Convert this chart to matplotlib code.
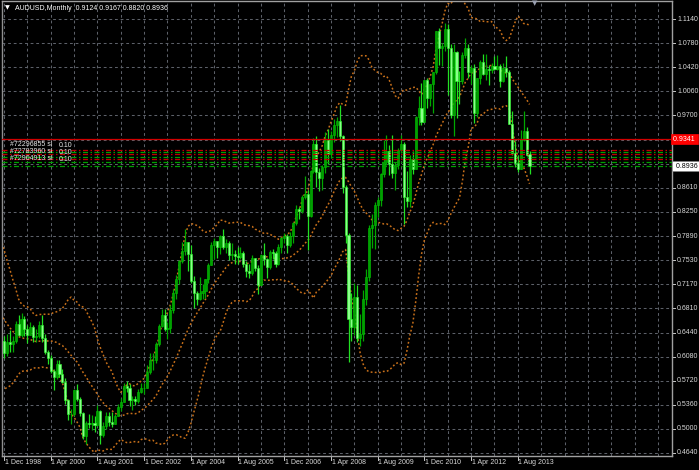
import numpy as np
import pandas as pd
import matplotlib.pyplot as plt
from matplotlib.transforms import blended_transform_factory

# AUDUSD monthly, Dec 1998 .. Dec 2013 (open, high, low, close)
opens = [0.6320,
 0.6135,0.6300,0.6270,0.6320,0.6570,0.6400,0.6640,0.6490,0.6410,0.6530,0.6380,0.6390,
 0.6560,0.6360,0.6150,0.6070,0.5870,0.5780,0.5970,0.5820,0.5710,0.5430,0.5230,0.5230,
 0.5590,0.5450,0.5240,0.4890,0.5090,0.5080,0.5090,0.5060,0.5270,0.4910,0.5040,0.5200,
 0.5110,0.5080,0.5200,0.5330,0.5410,0.5640,0.5620,0.5430,0.5450,0.5420,0.5560,0.5610,
 0.5620,0.5860,0.6030,0.6030,0.6270,0.6540,0.6710,0.6500,0.6510,0.6780,0.7040,0.7240,
 0.7520,0.7660,0.7800,0.7620,0.7220,0.7030,0.6950,0.7040,0.7070,0.7240,0.7460,0.7760,
 0.7810,0.7720,0.7890,0.7720,0.7790,0.7610,0.7620,0.7590,0.7570,0.7630,0.7470,0.7370,
 0.7330,0.7560,0.7410,0.7155,0.7605,0.7545,0.7420,0.7650,0.7630,0.7465,0.7730,0.7860,
 0.7885,0.7760,0.7895,0.8085,0.8300,0.8260,0.8480,0.8520,0.8190,0.8860,0.9270,0.8850,
 0.8760,0.8930,0.9330,0.9115,0.9410,0.9550,0.9620,0.9390,0.8620,0.7900,0.6640,0.6530,
 0.6980,0.6355,0.6420,0.6940,0.7270,0.8010,0.8060,0.8360,0.8430,0.8820,0.9000,0.9165,
 0.8970,0.8840,0.8960,0.9175,0.9265,0.8480,0.8420,0.9040,0.8890,0.9680,0.9800,0.9600,
 1.0225,0.9960,1.0160,1.0340,1.0960,1.0700,1.0735,1.0990,1.0700,0.9700,1.0640,1.0215,
 1.0210,1.0600,1.0710,1.0340,1.0400,0.9730,1.0250,1.0500,1.0320,1.0385,1.0380,1.0430,
 1.0385,1.0430,1.0205,1.0410,1.0350,0.9575,0.9140,0.8990,0.8895,0.9330,0.9465,0.9124]
highs = [0.6390,
 0.6420,0.6480,0.6390,0.6620,0.6710,0.6730,0.6690,0.6550,0.6600,0.6550,0.6490,0.6610,
 0.6710,0.6420,0.6190,0.6110,0.5900,0.6030,0.6040,0.5900,0.5770,0.5450,0.5300,0.5600,
 0.5680,0.5480,0.5260,0.5120,0.5230,0.5210,0.5190,0.5360,0.5280,0.5100,0.5250,0.5250,
 0.5260,0.5230,0.5370,0.5460,0.5690,0.5720,0.5680,0.5500,0.5500,0.5600,0.5690,0.5690,
 0.5960,0.6140,0.6140,0.6300,0.6570,0.6790,0.6800,0.6600,0.6850,0.7100,0.7300,0.7530,
 0.7800,0.8000,0.7800,0.7750,0.7290,0.7070,0.7270,0.7170,0.7250,0.7490,0.7800,0.7860,
 0.7820,0.7900,0.7990,0.7840,0.7810,0.7780,0.7680,0.7730,0.7720,0.7660,0.7510,0.7470,
 0.7600,0.7560,0.7450,0.7620,0.7790,0.7560,0.7680,0.7690,0.7670,0.7770,0.7880,0.7930,
 0.7920,0.7950,0.8100,0.8350,0.8330,0.8500,0.8790,0.8580,0.8880,0.9360,0.9390,0.8910,
 0.8960,0.9450,0.9500,0.9460,0.9650,0.9670,0.9850,0.9410,0.8660,0.7940,0.7040,0.7180,
 0.7150,0.6720,0.7080,0.7390,0.8050,0.8220,0.8400,0.8480,0.8830,0.9330,0.9400,0.9260,
 0.9400,0.9000,0.9210,0.9400,0.9300,0.8860,0.9110,0.9160,0.9690,0.9990,1.0180,1.0230,
 1.0250,1.0170,1.0350,1.0960,1.1010,1.0780,1.1080,1.1070,1.0770,1.0760,1.0660,1.0360,
 1.0650,1.0860,1.0770,1.0450,1.0470,1.0250,1.0520,1.0620,1.0620,1.0450,1.0480,1.0580,
 1.0600,1.0470,1.0480,1.0580,1.0380,0.9760,0.9320,0.9110,0.9480,0.9760,0.9530,0.9167]
lows = [0.6070,
 0.6090,0.6160,0.6160,0.6290,0.6390,0.6380,0.6390,0.6290,0.6400,0.6300,0.6300,0.6360,
 0.6300,0.6120,0.5980,0.5840,0.5580,0.5750,0.5780,0.5690,0.5380,0.5140,0.5070,0.5190,
 0.5420,0.5190,0.4850,0.4775,0.5010,0.4980,0.4960,0.5050,0.4775,0.4880,0.5000,0.5050,
 0.5030,0.5070,0.5190,0.5270,0.5400,0.5550,0.5350,0.5280,0.5360,0.5390,0.5540,0.5520,
 0.5610,0.5820,0.5880,0.5990,0.6240,0.6520,0.6460,0.6340,0.6430,0.6740,0.6950,0.7170,
 0.7480,0.7600,0.7370,0.7180,0.6810,0.6850,0.6930,0.6950,0.6960,0.7180,0.7450,0.7540,
 0.7560,0.7620,0.7690,0.7640,0.7530,0.7530,0.7470,0.7470,0.7550,0.7430,0.7280,0.7260,
 0.7310,0.7360,0.7020,0.7150,0.7460,0.7260,0.7400,0.7540,0.7430,0.7460,0.7630,0.7790,
 0.7640,0.7720,0.7780,0.8060,0.8150,0.8240,0.8450,0.7680,0.8180,0.8840,0.8630,0.8560,
 0.8580,0.8840,0.8970,0.9060,0.9300,0.9370,0.9320,0.8540,0.7780,0.6010,0.6320,0.6400,
 0.6300,0.6250,0.6320,0.6860,0.7210,0.7710,0.7700,0.8180,0.8340,0.8770,0.8960,0.8800,
 0.8760,0.8580,0.8900,0.9130,0.8070,0.8330,0.8320,0.8820,0.8890,0.9560,0.9550,0.9610,
 0.9810,0.9840,0.9730,1.0310,1.0450,1.0430,1.0660,1.0000,0.9660,0.9390,0.9660,0.9860,
 1.0160,1.0560,1.0260,1.0160,0.9580,0.9680,1.0160,1.0300,1.0220,1.0150,1.0330,1.0370,
 1.0380,1.0120,1.0190,1.0270,0.9570,0.9110,0.8920,0.8850,0.8890,0.9320,0.9090,0.8820]
closes = [0.6135,
 0.6300,0.6270,0.6320,0.6570,0.6400,0.6640,0.6490,0.6410,0.6530,0.6380,0.6390,0.6560,
 0.6360,0.6150,0.6070,0.5870,0.5780,0.5970,0.5820,0.5710,0.5430,0.5230,0.5230,0.5590,
 0.5450,0.5240,0.4890,0.5090,0.5080,0.5090,0.5060,0.5270,0.4910,0.5040,0.5200,0.5110,
 0.5080,0.5200,0.5330,0.5410,0.5640,0.5620,0.5430,0.5450,0.5420,0.5560,0.5610,0.5620,
 0.5860,0.6030,0.6030,0.6270,0.6540,0.6710,0.6500,0.6510,0.6780,0.7040,0.7240,0.7520,
 0.7660,0.7800,0.7620,0.7220,0.7030,0.6950,0.7040,0.7070,0.7240,0.7460,0.7760,0.7810,
 0.7720,0.7890,0.7720,0.7790,0.7610,0.7620,0.7590,0.7570,0.7630,0.7470,0.7370,0.7330,
 0.7560,0.7410,0.7155,0.7605,0.7545,0.7420,0.7650,0.7630,0.7465,0.7730,0.7860,0.7885,
 0.7760,0.7895,0.8085,0.8300,0.8260,0.8480,0.8520,0.8190,0.8860,0.9270,0.8850,0.8760,
 0.8930,0.9330,0.9115,0.9410,0.9550,0.9620,0.9390,0.8620,0.7900,0.6640,0.6530,0.6980,
 0.6355,0.6420,0.6940,0.7270,0.8010,0.8060,0.8360,0.8430,0.8820,0.9000,0.9165,0.8970,
 0.8840,0.8960,0.9175,0.9265,0.8480,0.8420,0.9040,0.8890,0.9680,0.9800,0.9600,1.0225,
 0.9960,1.0160,1.0340,1.0960,1.0700,1.0735,1.0990,1.0700,0.9700,1.0640,1.0215,1.0210,
 1.0600,1.0710,1.0340,1.0400,0.9730,1.0250,1.0500,1.0320,1.0385,1.0380,1.0430,1.0385,
 1.0430,1.0205,1.0410,1.0350,0.9575,0.9140,0.8990,0.8895,0.9330,0.9465,0.9110,0.8936]
# closes Apr 1997 .. Nov 1998, only used to warm up the bands
closes_before = [0.7740,0.7600,0.7460,0.7400,0.7310,0.7240,0.6990,0.6700,0.6510,0.6720,
                 0.6780,0.6615,0.6480,0.6190,0.6200,0.6110,0.5860,0.5930,0.6270,0.6320]

date_labels = ["1 Dec 1998", "1 Apr 2000", "1 Aug 2001", "1 Dec 2002", "1 Apr 2004", "1 Aug 2005",
               "1 Dec 2006", "1 Apr 2008", "1 Aug 2009", "1 Dec 2010", "1 Apr 2012", "1 Aug 2013"]
price_grid = [0.4640, 0.5000, 0.5360, 0.5720, 0.6080, 0.6440, 0.6810, 0.7170, 0.7530, 0.7890,
              0.8250, 0.8610, 0.8970, 0.9330, 0.9700, 1.0060, 1.0420, 1.0780, 1.1140]
hidden_labels = [0.8970, 0.9330]
alert_price = 0.9341
sl_lines = [0.9178, 0.9111, 0.9043]
open_lines = [0.9148, 0.9078, 0.9006]
order_ids = ["#72296855", "#72783960", "#72904913"]
order_lots = ["0.10", "0.10", "0.10"]

font = ['Liberation Sans', 'DejaVu Sans']
plt.rcParams['font.family'] = font

W, H = 699, 470
fig = plt.figure(figsize=(W / 100, H / 100), dpi=100, facecolor='black')
ax = fig.add_axes([2 / W, (H - 456) / H, 670 / W, 455 / H], facecolor='black')

n = len(closes)
x = np.arange(n)
o = np.array(opens); h = np.array(highs); l = np.array(lows); c = np.array(closes)

# grid
gridc = '#5c6068'
for k in range(0, 232, 8):
    ax.axvline(k, color=gridc, lw=0.75, dashes=(2.7, 2.7), zorder=1)
for p in price_grid:
    ax.axhline(p, color=gridc, lw=0.75, dashes=(2.7, 2.7), zorder=1)

# bollinger bands (20, 2) from closes
allc = pd.Series(closes_before + closes)
mid = allc.rolling(20).mean()
sd = allc.rolling(20).std(ddof=0)
bx = np.arange(-len(closes_before), n)
bbc = '#c8701a'
for band in (mid, mid + 2 * sd, mid - 2 * sd):
    ax.plot(bx, band, color=bbc, lw=1.1, dashes=(1.2, 1.5), zorder=2)

# candles
up = c >= o
ax.vlines(x[up], l[up], h[up], color='#00a800', lw=0.9, zorder=3)
ax.vlines(x[~up], l[~up], h[~up], color='#22e022', lw=0.9, zorder=3)
ax.bar(x[up], (c - o)[up], bottom=o[up], width=0.72, color='#00a000',
       edgecolor='#00c400', lw=0.4, zorder=4)
ax.bar(x[~up], (o - c)[~up], bottom=c[~up], width=0.72, color='#8cff8c',
       edgecolor='#2cff2c', lw=0.4, zorder=4)

# alert line and trade levels
ax.axhline(alert_price, color='#d00000', lw=0.9, zorder=5)
for p in sl_lines:
    ax.axhline(p, color='#c00000', lw=0.9, dashes=(4, 2, 1.2, 2), zorder=5)
for p in open_lines:
    ax.axhline(p, color='#00a000', lw=0.9, dashes=(4, 2, 1.2, 2), zorder=5)
ax.axhline(0.8946, color='#00a000', lw=0.9, dashes=(4, 2, 1.2, 2), zorder=5)

for i, (oid, lot) in enumerate(zip(order_ids, order_lots)):
    yy = 0.9255 - i * 0.0105
    ax.text(2.0, yy, oid + " sl", color='#e8e8e8', fontsize=5, va='center', ha='left', zorder=6)
    ax.text(18.8, yy - 0.0015, lot, color='#e8e8e8', fontsize=5, va='center', ha='left', zorder=6)

ax.set_xlim(-0.685, 228.8)
ax.set_ylim(0.4595, 1.1410)
ax.set_xticks([]); ax.set_yticks([])
for s in ax.spines.values():
    s.set_color('#a0a0a0'); s.set_linewidth(1.0)
ax.spines['left'].set_color('#909090')

# right price scale
tr = blended_transform_factory(ax.transAxes, ax.transData)
for p in price_grid:
    ax.plot([1, 1 + 3 / 670], [p, p], color='#c8c8c8', lw=0.7, transform=tr, clip_on=False)
    if p not in hidden_labels:
        ax.text(1 + 5 / 670, p, "%.4f" % p, color='#d8d8d8', fontsize=5, va='center',
                ha='left', transform=tr)
ax.text(1 + 1 / 670, alert_price, "0.9341 ", color='white', fontsize=5, va='center', ha='left',
        transform=tr, bbox=dict(boxstyle='square,pad=0.25', fc='#ff0000', ec='#ff0000', lw=0.5))
ax.text(1 + 2 / 670, closes[-1], " 0.8936 ", color='black', fontsize=5, va='center', ha='left',
        transform=tr, bbox=dict(boxstyle='square,pad=0.25', fc='white', ec='#808080', lw=0.5))

# date scale
trx = blended_transform_factory(ax.transData, ax.transAxes)
for k, lab in enumerate(date_labels):
    xx = k * 16
    ax.plot([xx, xx], [0, -4 / 455], color='#c8c8c8', lw=0.7, transform=trx, clip_on=False)
    ax.text(xx + 0.2, -7 / 455, lab, color='#d8d8d8', fontsize=5, va='center', ha='left',
            transform=trx)

# title and shift marker
fig.text(5 / W, 1 - 8 / H, "\u25bc", color='white', fontsize=4.5, va='center', ha='left',
         family=['DejaVu Sans'])
fig.text(15 / W, 1 - 8 / H, "AUDUSD,Monthly  0.9124 0.9167 0.8820 0.8936", color='white',
         fontsize=5, va='center', ha='left')
fig.text(535 / W, 1 - 3 / H, "\u25bc", color='#9aa0b0', fontsize=5, va='center', ha='center',
         family=['DejaVu Sans'])

fig.savefig('out.png', dpi=100, facecolor='black')
